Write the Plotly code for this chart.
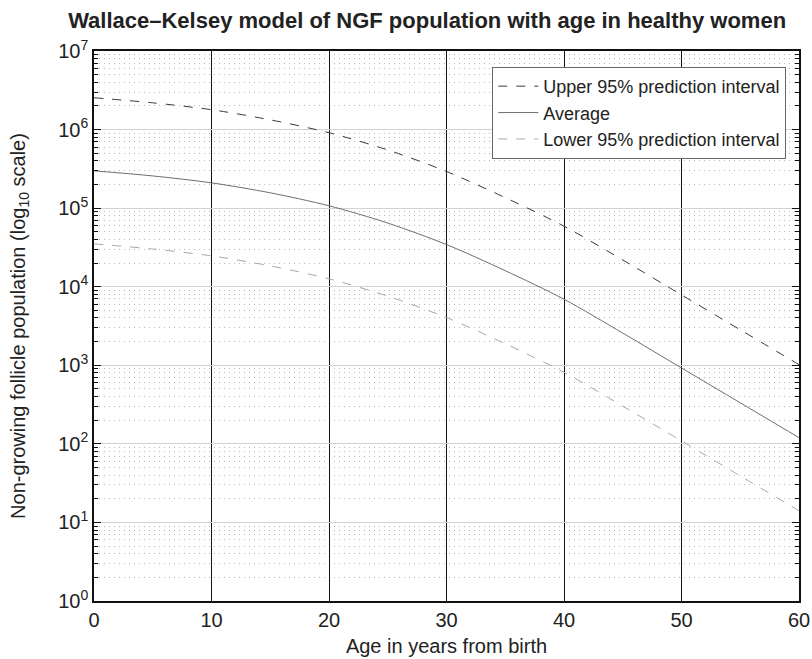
import plotly.graph_objects as go

age = [0, 5, 10, 15, 20, 25, 30, 35, 40, 45, 50, 55, 60]
average = [2.985e5, 2.57e5, 2.10e5, 1.567e5, 1.072e5, 6.46e4, 3.44e4, 1.60e4, 6.93e3, 2.57e3, 925, 333, 120]
upper95 = [2.54e6, 2.19e6, 1.79e6, 1.33e6, 9.12e5, 5.5e5, 2.93e5, 1.36e5, 5.9e4, 2.19e4, 7.87e3, 2.83e3, 1.02e3]
lower95 = [3.51e4, 3.02e4, 2.47e4, 1.84e4, 1.26e4, 7.59e3, 4.05e3, 1.88e3, 815, 302, 109, 39.1, 14.1]

x_ticks = [0, 10, 20, 30, 40, 50, 60]
y_tickvals = [1, 10, 100, 1e3, 1e4, 1e5, 1e6, 1e7]
y_ticktext = ["10<sup>%d</sup>" % i for i in range(8)]

FONT = "Liberation Sans, Arial, sans-serif"

fig = go.Figure()
fig.add_trace(go.Scatter(x=age, y=upper95, mode="lines", name="Upper 95% prediction interval",
                         line=dict(color="#3a3a3a", width=1, dash="dash", shape="spline", smoothing=0.8)))
fig.add_trace(go.Scatter(x=age, y=average, mode="lines", name="Average",
                         line=dict(color="#6e6e6e", width=1, shape="spline", smoothing=0.8)))
fig.add_trace(go.Scatter(x=age, y=lower95, mode="lines", name="Lower 95% prediction interval",
                         line=dict(color="#a8a8a8", width=1, dash="dash", shape="spline", smoothing=0.8)))

fig.update_layout(
    width=812, height=659,
    margin=dict(l=94, r=13, t=51, b=58, autoexpand=False),
    paper_bgcolor="white", plot_bgcolor="white",
    font=dict(family=FONT, color="#222", size=20),
    title=dict(text="<b>Wallace–Kelsey model of NGF population with age in healthy women</b>",
               x=0.526, xanchor="center", y=0.969, yanchor="middle",
               font=dict(size=22, family=FONT, color="#222")),
    legend=dict(x=0.982, xanchor="right", y=0.971, yanchor="top",
                bgcolor="white", bordercolor="#666", borderwidth=1,
                font=dict(size=18, family=FONT, color="#222"),
                tracegroupgap=0, itemwidth=40),
    showlegend=True,
)

fig.update_xaxes(
    range=[0, 60], tickvals=x_ticks, ticks="", tickfont=dict(size=20),
    showgrid=True, gridcolor="#111", gridwidth=1.1,
    showline=True, linecolor="#111", linewidth=1.5, mirror=True,
    zeroline=False, automargin=False,
    title=dict(text="Age in years from birth", font=dict(size=20), standoff=9),
)
fig.update_yaxes(
    type="log", range=[0, 7], tickvals=y_tickvals, ticktext=y_ticktext,
    ticks="inside", ticklen=7, tickcolor="#111", tickfont=dict(size=20),
    showgrid=True, gridcolor="#d2d2d2", gridwidth=1,
    showline=True, linecolor="#111", linewidth=1.5, mirror="ticks",
    zeroline=False, automargin=False,
    minor=dict(dtick="D1", ticks="inside", ticklen=4, tickcolor="#111",
               showgrid=True, gridcolor="#b8b8b8", griddash="1px,4px", gridwidth=1),
    title=dict(text="Non-growing follicle population (log<sub>10</sub> scale)", font=dict(size=20), standoff=27),
)

fig.write_html("out.html")
